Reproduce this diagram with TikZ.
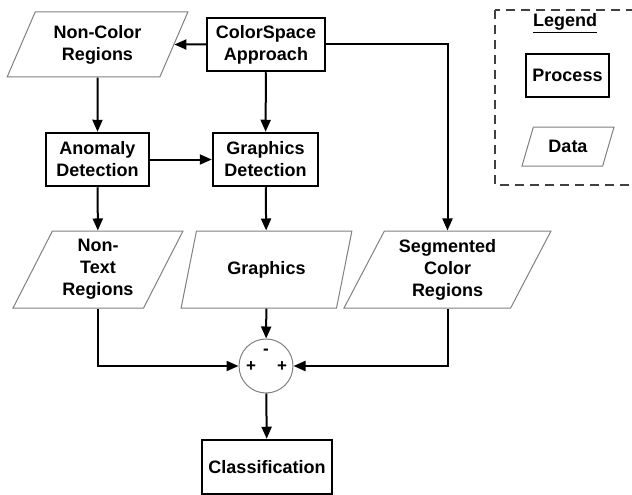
\documentclass[tikz,border=0pt]{standalone}
\usepackage{fontspec}
\setmainfont{Liberation Sans}
\usetikzlibrary{shapes.geometric,arrows.meta}

\begin{document}
\begin{tikzpicture}[x=1pt,y=-1pt,line width=2pt,>={Triangle[length=12pt,width=10pt]}]
        \tikzstyle{every node}=[font=\fontsize{18}{22}\selectfont\bfseries,align=center,inner sep=0pt];
        \tikzstyle{process}=[draw,rectangle,line width=2.5pt];
        \tikzstyle{data}=[draw=gray,line width=1pt,trapezium,trapezium left angle=63,trapezium right angle=117,trapezium stretches=true];
        \tikzstyle{sign}=[font=\fontsize{17}{17}\selectfont\bfseries];
        \useasboundingbox (0,0) rectangle (632,495);
        % flow chart
        \node[data,minimum width=181pt,minimum height=65pt] (noncolor) at (97.5,44.5) {Non-Color\\Regions};
        \node[process,minimum width=118pt,minimum height=53pt] (colorspace) at (266,44.5) {ColorSpace\\Approach};
        \node[process,minimum width=103pt,minimum height=53pt] (anomaly) at (97.5,159.5) {Anomaly\\Detection};
        \node[process,minimum width=105pt,minimum height=53pt] (graphdet) at (265.5,159.5) {Graphics\\Detection};
        \node[data,minimum width=170pt,minimum height=77pt] (nontext) at (98,269.5) {Non-\\Text\\Regions};
        \node[data,minimum width=171pt,minimum height=77pt] (graphics) at (266.5,269.5) {Graphics};
        \node[data,minimum width=207pt,minimum height=77pt] (segmented) at (447.5,269.5) {Segmented\\Color\\Regions};
        \node[draw=gray,line width=1pt,circle,minimum size=54pt] (sum) at (266,366) {};
        \node[sign] (minus) at (266,352) {-};
        \node[sign] (plusl) at (251,367) {+};
        \node[sign] (plusr) at (282,367) {+};
        \node[process,minimum width=130pt,minimum height=54pt] (classif) at (267,467) {Classification};
        \draw[->] (colorspace.west) -- (noncolor.east);
        \draw[->] (colorspace.east) -| (segmented.north);
        \draw[->] (colorspace) -- (graphdet);
        \draw[->] (noncolor) -- (anomaly);
        \draw[->] (anomaly) -- (graphdet);
        \draw[->] (anomaly) -- (nontext);
        \draw[->] (graphdet) -- (graphics);
        \draw[->] (graphics) -- (sum);
        \draw[->] (nontext.south) |- (sum.west);
        \draw[->] (segmented.south) |- (sum.east);
        \draw[->] (sum) -- (classif);
        % legend
        \draw[darkgray,dash pattern=on 9pt off 6pt] (495,10) rectangle (645,185);
        \node (legend) at (565,23) {\underline{Legend}};
        \node[process,minimum width=83pt,minimum height=43pt] (process) at (567.5,75.5) {Process};
        \node[data,minimum width=92pt,minimum height=39pt] (datakey) at (568,146.5) {Data};
      \end{tikzpicture}
\end{document}
